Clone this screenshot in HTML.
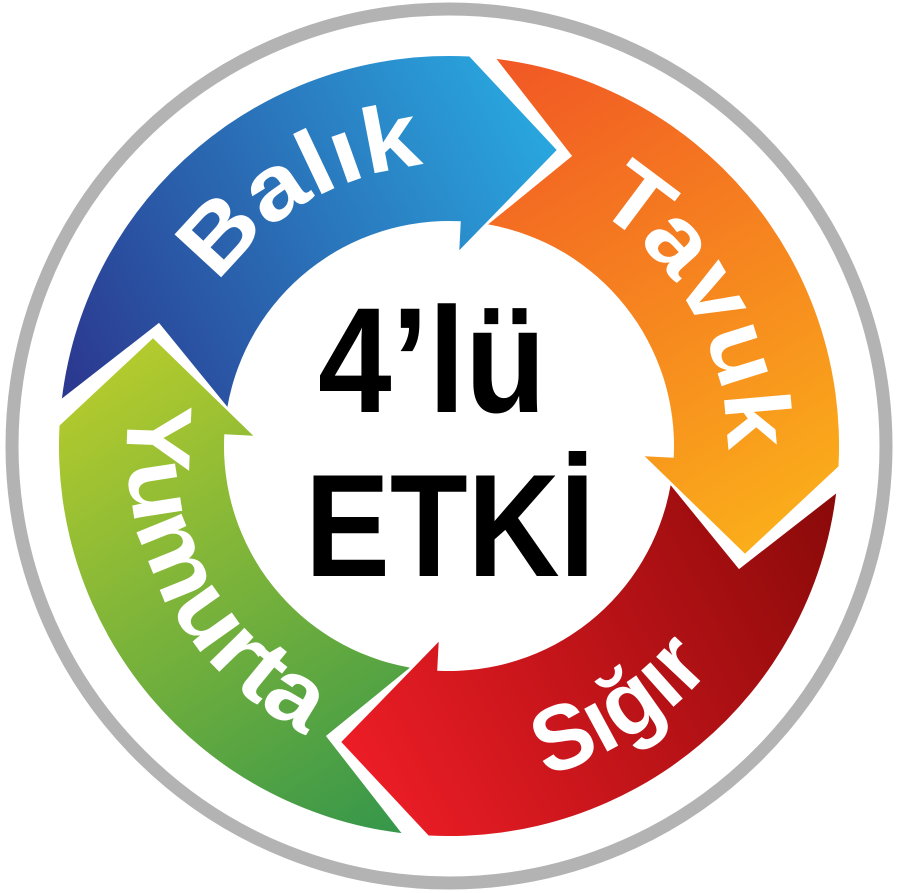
<!DOCTYPE html>
<html><head><meta charset="utf-8"><style>
html,body{margin:0;padding:0;background:#fff;}
svg{display:block;}
</style></head><body>
<svg id="s" width="899" height="893" viewBox="0 0 899 893" xmlns="http://www.w3.org/2000/svg">
<defs>
<linearGradient id="gb" gradientUnits="userSpaceOnUse" x1="70" y1="380" x2="560" y2="120"><stop offset="0" stop-color="#2b3990"/><stop offset="1" stop-color="#29aae1"/></linearGradient>
<linearGradient id="go" gradientUnits="userSpaceOnUse" x1="520" y1="70" x2="800" y2="540"><stop offset="0" stop-color="#f15a24"/><stop offset="1" stop-color="#fbb01a"/></linearGradient>
<linearGradient id="gr" gradientUnits="userSpaceOnUse" x1="830" y1="500" x2="340" y2="760"><stop offset="0" stop-color="#8b0a0a"/><stop offset="1" stop-color="#ee1d26"/></linearGradient>
<linearGradient id="gg" gradientUnits="userSpaceOnUse" x1="90" y1="360" x2="390" y2="830"><stop offset="0" stop-color="#b7cc2c"/><stop offset="1" stop-color="#37974a"/></linearGradient>
</defs>
<circle cx="449" cy="446" r="437" fill="#fff" stroke="#b3b3b3" stroke-width="13"/>
<g id="arrows"></g>
<g id="labels" font-family="Liberation Sans, sans-serif" font-weight="bold" font-size="92" fill="#fff"></g>
<g font-family="Liberation Sans, sans-serif" font-weight="bold" fill="#000" text-anchor="middle">
<text x="432" y="412" font-size="150" textLength="228" lengthAdjust="spacingAndGlyphs">4’lü</text>
<text x="450" y="576" font-size="146" textLength="290" lengthAdjust="spacingAndGlyphs">ETKİ</text>
</g>
</svg>
<script>
var cx=449,cy=446,NS="http://www.w3.org/2000/svg";
function p(r,a){a=a*Math.PI/180;return (cx+r*Math.cos(a)).toFixed(1)+","+(cy+r*Math.sin(a)).toFixed(1);}
var Ro=390,Ri=225,Rm=315,Hi=196;
var arrows=[[290,"url(#gb)"],[20,"url(#go)"],[110,"url(#gr)"],[200,"url(#gg)"]];
var g=document.getElementById("arrows");
arrows.forEach(function(a){
 var tip=a[0],base=tip-17,pb=tip-90-17,tO=pb+4,tI=pb+7,notch=tip-90+3;
 var d="M"+p(Ro,tO)+" A"+Ro+","+Ro+" 0 0 1 "+p(Ro,base)+" L"+p(Rm,tip)+" L"+p(Hi,base)+" L"+p(Ri,base)+" A"+Ri+","+Ri+" 0 0 0 "+p(Ri,tI)+" L"+p(Rm,notch)+" Z";
 var e=document.createElementNS(NS,"path");e.setAttribute("d",d);e.setAttribute("fill",a[1]);e.setAttribute("stroke-linejoin","round");g.appendChild(e);
});
var defs=document.querySelector("defs"),lg=document.getElementById("labels");
var labels=[["Balık",240,1,282,245],["Tavuk",331,1,278,290],["Sığır",57,0,344,200],["Yumurta",152,0,322,400]];
labels.forEach(function(l,i){
 var c=l[1],cw=l[2],r=l[3],d;
 if(cw)d="M"+p(r,c-70)+" A"+r+","+r+" 0 0 1 "+p(r,c+70);
 else d="M"+p(r,c+70)+" A"+r+","+r+" 0 0 0 "+p(r,c-70);
 var pa=document.createElementNS(NS,"path");pa.setAttribute("id","lp"+i);pa.setAttribute("d",d);pa.setAttribute("fill","none");defs.appendChild(pa);
 var t=document.createElementNS(NS,"text");t.setAttribute("text-anchor","middle");
 var tp=document.createElementNS(NS,"textPath");tp.setAttribute("href","#lp"+i);tp.setAttribute("startOffset","50%");tp.setAttribute("textLength",l[4]);tp.setAttribute("lengthAdjust","spacingAndGlyphs");tp.textContent=l[0];
 t.appendChild(tp);lg.appendChild(t);
});
</script>
</body></html>
